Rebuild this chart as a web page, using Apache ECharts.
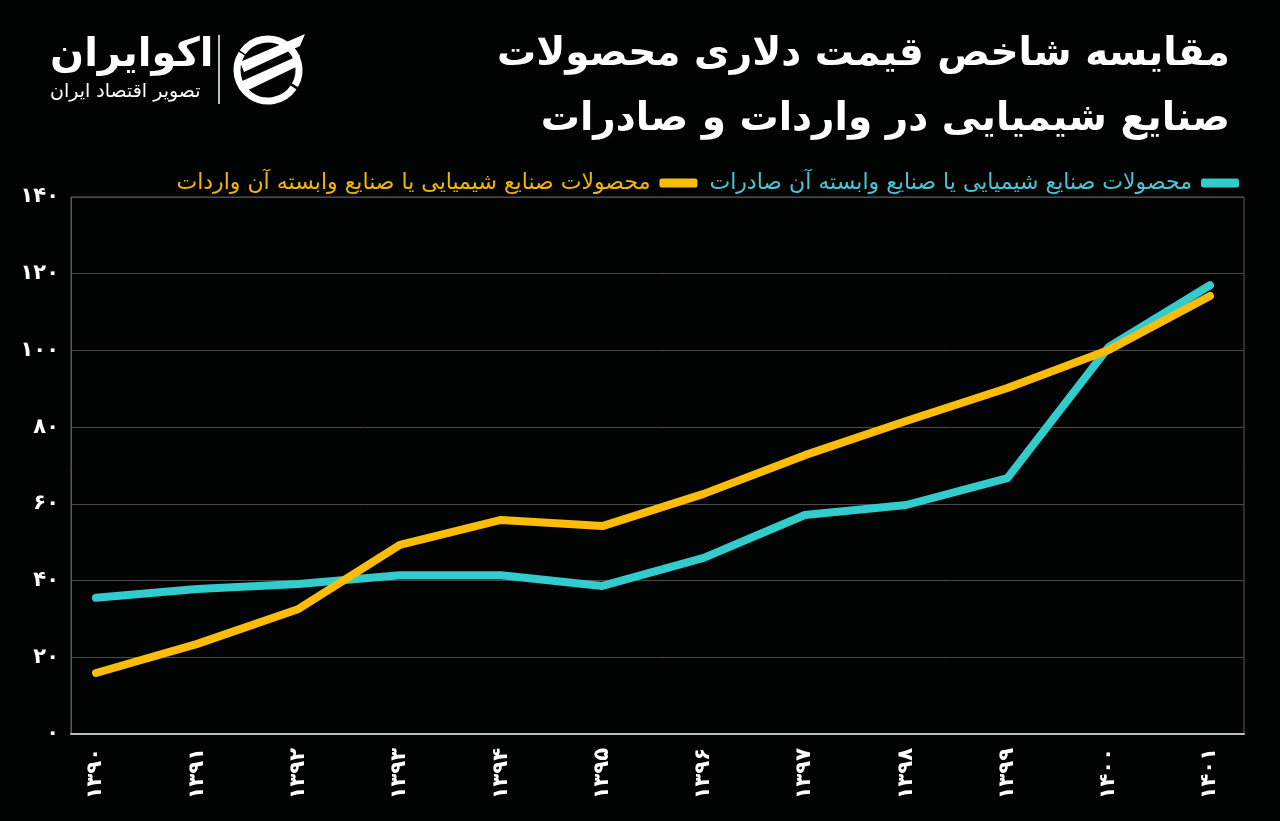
<!DOCTYPE html>
<html>
<head>
<meta charset="utf-8">
<script src="https://cdn.jsdelivr.net/npm/echarts@6/dist/echarts.min.js"></script>
<style>
html,body{margin:0;padding:0;background:#020303;}
#chart{width:1280px;height:821px;}
</style>
</head>
<body>
<div id="chart"></div>
<script>
const categories = ['۱۳۹۰','۱۳۹۱','۱۳۹۲','۱۳۹۳','۱۳۹۴','۱۳۹۵','۱۳۹۶','۱۳۹۷','۱۳۹۸','۱۳۹۹','۱۴۰۰','۱۴۰۱'];
const exportsValues = [35.5, 37.8, 39.1, 41.4, 41.4, 38.6, 45.9, 57.1, 59.7, 66.7, 100.9, 117.0];
const importsValues = [15.9, 23.5, 32.6, 49.3, 55.8, 54.2, 62.6, 72.7, 81.6, 90.2, 100.1, 114.2];
const yTickValues = [0, 20, 40, 60, 80, 100, 120, 140];
const yTickLabels = ['۰','۲۰','۴۰','۶۰','۸۰','۱۰۰','۱۲۰','۱۴۰'];
const exportsName = 'محصولات صنایع شیمیایی یا صنایع وابسته آن صادرات';
const importsName = 'محصولات صنایع شیمیایی یا صنایع وابسته آن واردات';
const titleLines = ['مقایسه شاخص قیمت دلاری محصولات', 'صنایع شیمیایی در واردات و صادرات'];

const FONT = '"DejaVu Sans", "Noto Sans", sans-serif';
const chart = echarts.init(document.getElementById('chart'));

const option = {
  backgroundColor: '#020303',
  animation: false,
  textStyle: { fontFamily: FONT },
  grid: {
    left: 71, right: 36, top: 197, bottom: 87,
    show: true, borderColor: '#5a5a5a', borderWidth: 1, backgroundColor: 'transparent'
  },
  legend: {
    right: 36, top: 167,
    align: 'right',
    itemGap: 12,
    itemWidth: 38, itemHeight: 9,
    icon: 'roundRect',
    data: [
      { name: importsName, textStyle: { color: '#f3b600' } },
      { name: exportsName, textStyle: { color: '#49c6d3' } }
    ],
    textStyle: { fontSize: 22, fontFamily: FONT, padding: [0, 4, 0, 0] }
  },
  xAxis: {
    type: 'value',
    min: -0.247, max: 11.336,
    axisLine: { show: true, onZero: false, lineStyle: { color: '#bdbdbd', width: 2 } },
    axisTick: { show: false },
    splitLine: { show: false },
    axisLabel: {
      customValues: categories.map((c, i) => i),
      formatter: v => categories[Math.round(v)],
      rotate: 90,
      color: '#ffffff', fontSize: 21, fontWeight: 'bold', margin: 14, fontFamily: FONT
    }
  },
  yAxis: {
    type: 'value',
    min: 0, max: 140, interval: 20,
    axisLine: { show: true, onZero: false, lineStyle: { color: '#5a5a5a', width: 1 } },
    axisTick: { show: false },
    splitLine: { show: true, lineStyle: { color: '#4a4a4a', width: 1 } },
    axisLabel: {
      formatter: v => yTickLabels[yTickValues.indexOf(v)],
      color: '#ffffff', fontSize: 21, fontWeight: 'bold', margin: 12, fontFamily: FONT
    }
  },
  series: [
    {
      name: importsName, type: 'line',
      data: importsValues.map((v, i) => [i, v]),
      symbol: 'none',
      lineStyle: { color: '#fbbd08', width: 8, cap: 'round', join: 'round' },
      itemStyle: { color: '#fbbd08' },
      z: 3
    },
    {
      name: exportsName, type: 'line',
      data: exportsValues.map((v, i) => [i, v]),
      symbol: 'none',
      lineStyle: { color: '#33cccc', width: 8, cap: 'round', join: 'round' },
      itemStyle: { color: '#33cccc' },
      z: 2
    }
  ],
  graphic: [
    { type: 'text', right: 50, top: 35, style: { text: titleLines[0], fill: '#ffffff', font: 'bold 39px ' + FONT, textAlign: 'right' } },
    { type: 'text', right: 50, top: 100, style: { text: titleLines[1], fill: '#ffffff', font: 'bold 39px ' + FONT, textAlign: 'right' } },
    // logo
    { type: 'text', left: 50, top: 36, style: { text: 'اکوایران', fill: '#ffffff', font: 'bold 40px ' + FONT } },
    { type: 'text', left: 50, top: 83, style: { text: 'تصویر اقتصاد ایران', fill: '#ffffff', font: '19px ' + FONT } },
    { type: 'line', shape: { x1: 219, y1: 35, x2: 219, y2: 104 }, style: { stroke: '#ffffff', lineWidth: 1.5 } },
    { type: 'arc', shape: { cx: 268, cy: 70, r: 31, startAngle: 0.6, endAngle: 3.7 }, style: { stroke: '#ffffff', lineWidth: 7, fill: null } },
    { type: 'arc', shape: { cx: 268, cy: 70, r: 31, startAngle: 3.75, endAngle: 6.8 }, style: { stroke: '#ffffff', lineWidth: 7, fill: null } },
    { type: 'polygon', shape: { points: [[240, 62], [305, 34], [300, 46], [244, 72]] }, style: { fill: '#ffffff' } },
    { type: 'polygon', shape: { points: [[240, 82], [300, 55], [296, 67], [244, 92]] }, style: { fill: '#ffffff' } }
  ]
};
chart.setOption(option);
</script>
</body>
</html>
